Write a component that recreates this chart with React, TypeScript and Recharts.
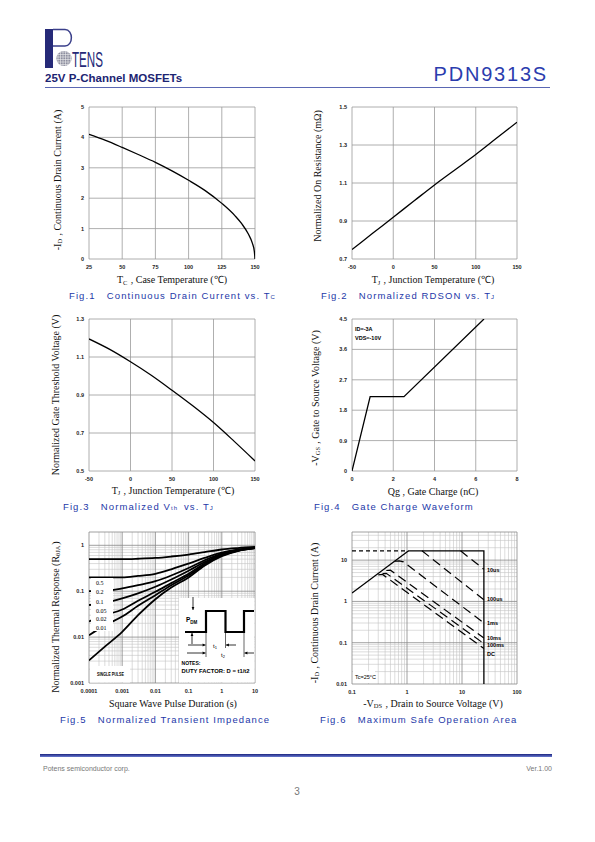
import React from "react";
import { LineChart, Line, XAxis, YAxis, CartesianGrid } from "recharts";

// Fig.1 continuous drain current vs case temperature
const fig1Temp = [25, 37.5, 50, 62.5, 75, 87.5, 100, 112.5, 125, 135, 140, 145, 148, 149.5, 150];
const fig1Current = [4.1, 3.9, 3.67, 3.43, 3.18, 2.9, 2.59, 2.25, 1.83, 1.42, 1.16, 0.82, 0.52, 0.25, 0];
const fig1XTicks = [25, 50, 75, 100, 125, 150];
const fig1YTicks = [0, 1, 2, 3, 4, 5];

// Fig.2 normalized RDSON vs junction temperature
const fig2Temp = [-50, -25, 0, 25, 50, 75, 100, 125, 150];
const fig2Rdson = [0.75, 0.835, 0.92, 1.005, 1.09, 1.17, 1.25, 1.335, 1.42];
const tjTicks = [-50, 0, 50, 100, 150];
const fig2YTicks = [0.7, 0.9, 1.1, 1.3, 1.5];

// Fig.3 normalized Vth vs junction temperature
const fig3Temp = [-50, -25, 0, 25, 50, 75, 100, 125, 150];
const fig3Vth = [1.195, 1.14, 1.075, 1.004, 0.925, 0.843, 0.755, 0.656, 0.553];
const fig3YTicks = [0.5, 0.7, 0.9, 1.1, 1.3];

// Fig.4 gate charge
const fig4Qg = [0, 0.88, 2.52, 6.4];
const fig4Vgs = [0, 2.2, 2.2, 4.5];
const fig4XTicks = [0, 2, 4, 6, 8];
const fig4YTicks = [0, 0.9, 1.8, 2.7, 3.6, 4.5];

// Fig.5 transient thermal impedance
const fig5Time = [0.0001, 0.0003, 0.001, 0.003, 0.01, 0.03, 0.1, 0.3, 1, 3, 10];
const fig5D050 = [0.5, 0.5, 0.5, 0.51, 0.53, 0.57, 0.63, 0.71, 0.81, 0.87, 0.92];
const fig5D020 = [0.2, 0.2, 0.2, 0.215, 0.24, 0.3, 0.4, 0.53, 0.69, 0.8, 0.89];
const fig5D010 = [0.1, 0.102, 0.115, 0.135, 0.165, 0.22, 0.32, 0.47, 0.66, 0.79, 0.89];
const fig5D005 = [0.05, 0.056, 0.07, 0.09, 0.125, 0.18, 0.28, 0.43, 0.63, 0.78, 0.88];
const fig5D002 = [0.022, 0.03, 0.04, 0.062, 0.097, 0.15, 0.24, 0.4, 0.61, 0.77, 0.875];
const fig5D001 = [0.011, 0.018, 0.028, 0.048, 0.082, 0.135, 0.22, 0.38, 0.6, 0.76, 0.87];
const fig5Single = [0.0031, 0.0062, 0.013, 0.03, 0.067, 0.12, 0.2, 0.36, 0.58, 0.75, 0.865];
const fig5XTicks = [0.0001, 0.001, 0.01, 0.1, 1, 10];
const fig5YTicks = [0.001, 0.01, 0.1, 1];
const fig5Legend = ["0.5", "0.2", "0.1", "0.05", "0.02", "0.01"];

// Fig.6 safe operating area
const soaRdsV = [0.1, 1.07];
const soaRdsI = [1.6, 16.8];
const soaTopV = [0.1, 1.07];
const soaTopI = [16.8, 16.8];
const soaLimV = [1.07, 25, 25];
const soaLimI = [16.8, 16.8, 0.01];
const soa10usV = [9.4, 25];
const soa10usI = [16.8, 6];
const soa100usV = [1.87, 25];
const soa100usI = [16.8, 1.1];
const soa1msV = [0.6, 0.72, 0.86, 25];
const soa1msI = [9.4, 9.6, 9.1, 0.3];
const soa10msV = [0.42, 0.5, 25];
const soa10msI = [5.6, 5.7, 0.13];
const soa100msV = [0.36, 0.42, 25];
const soa100msI = [4.7, 4.8, 0.095];
const soaDcV = [0.3, 0.36, 25];
const soaDcI = [4.4, 4.5, 0.072];
const fig6XTicks = [0.1, 1, 10, 100];
const fig6YTicks = [0.01, 0.1, 1, 10];
const fig6Labels = ["10us", "100us", "1ms", "10ms", "100ms", "DC"];

const zip = (xs: number[], ys: number[]) => xs.map((x, i) => ({ x, y: ys[i] }));

const minors = (from: number, to: number, top?: number) => {
  const out: number[] = [];
  for (let d = from; d < to; d *= 10) {
    for (let m = 2; m <= 9; m++) {
      const v = +(m * d).toPrecision(3);
      if (top === undefined || v < top) out.push(v);
    }
  }
  return out;
};

const sans = "'Liberation Sans', Arial, sans-serif";
const serif = "'Liberation Serif', 'Times New Roman', serif";
const capColor = "#2438a8";
const gridColor = "#9a9a9a";
const tickStyle = { fontSize: 5.5, fontFamily: sans, fontWeight: 700, fill: "#222" };

const PAD_L = 40;
const PAD_T = 10;
const PAD_R = 10;
const PAD_B = 20;

type Box = { x0: number; y0: number; x1: number; y1: number };

function Frame({ box, children }: { box: Box; children: React.ReactNode }) {
  const width = box.x1 - box.x0 + PAD_L + PAD_R;
  const height = box.y1 - box.y0 + PAD_T + PAD_B;
  return (
    <div style={{ position: "absolute", left: box.x0 - PAD_L, top: box.y0 - PAD_T }}>
      <LineChart width={width} height={height} margin={{ top: PAD_T, right: PAD_R, bottom: 0, left: 0 }}>
        {children}
      </LineChart>
    </div>
  );
}

const xAxisProps = {
  type: "number" as const,
  dataKey: "x",
  tickLine: false,
  axisLine: false,
  height: PAD_B,
  tickSize: 5,
  tickMargin: 1,
  interval: 0 as const,
  allowDataOverflow: true,
  tick: tickStyle,
};
const yAxisProps = {
  type: "number" as const,
  tickLine: false,
  axisLine: false,
  width: PAD_L,
  tickSize: 4,
  tickMargin: 1,
  interval: 0 as const,
  allowDataOverflow: true,
  tick: tickStyle,
};

function LinearChart({ box, xs, ys, xTicks, yTicks, curve }: any) {
  return (
    <Frame box={box}>
      <CartesianGrid stroke={gridColor} strokeWidth={0.8} />
      <XAxis {...xAxisProps} domain={[xTicks[0], xTicks[xTicks.length - 1]]} ticks={xTicks} />
      <YAxis {...yAxisProps} domain={[yTicks[0], yTicks[yTicks.length - 1]]} ticks={yTicks} />
      <Line data={zip(xs, ys)} dataKey="y" type={curve} stroke="#000" strokeWidth={1.3} dot={false} isAnimationActive={false} />
    </Frame>
  );
}

const fig5Curves = [fig5D050, fig5D020, fig5D010, fig5D005, fig5D002, fig5D001, fig5Single];
const fig5Top = 1.95;
const fig6Top = 48;

const soaSolid = [zip(soaRdsV, soaRdsI), zip(soaLimV, soaLimI)];
const soaDashed = [zip(soa10usV, soa10usI), zip(soa100usV, soa100usI), zip(soa1msV, soa1msI), zip(soa10msV, soa10msI), zip(soa100msV, soa100msI), zip(soaDcV, soaDcI)];

const B1 = { x0: 89, y0: 107, x1: 255, y1: 259 };
const B2 = { x0: 352, y0: 107, x1: 517, y1: 259 };
const B3 = { x0: 89, y0: 319, x1: 255, y1: 471 };
const B4 = { x0: 352, y0: 319, x1: 517, y1: 471 };
const B5 = { x0: 89, y0: 532, x1: 255, y1: 683 };
const B6 = { x0: 352, y0: 532, x1: 517, y1: 684 };

function YLabel({ cx, cy, children }: any) {
  return (
    <text x={cx} y={cy} transform={`rotate(-90 ${cx} ${cy})`} textAnchor="middle" dominantBaseline="central" fontFamily={serif} fontSize={10} fill="#111">
      {children}
    </text>
  );
}
function XLabel({ cx, cy, children }: any) {
  return (
    <text x={cx} y={cy} textAnchor="middle" dominantBaseline="central" fontFamily={serif} fontSize={10} fill="#111">
      {children}
    </text>
  );
}
function Caption({ x, cy, children }: any) {
  return (
    <text x={x} y={cy} dominantBaseline="central" fontFamily={sans} fontSize={9.5} letterSpacing={1.1} fill={capColor} style={{ whiteSpace: "pre" }}>
      {children}
    </text>
  );
}
const Sub = ({ t, size = 6.5 }: { t: string; size?: number }) => (
  <>
    <tspan fontSize={size} dy={2}>{t}</tspan>
    <tspan dy={-2}>{"\u200a"}</tspan>
  </>
);

function Arrow({ x1, y1, x2, y2 }: any) {
  const a = Math.atan2(y2 - y1, x2 - x1);
  const s = 3.2;
  const p1 = [x2 - s * Math.cos(a - 0.45), y2 - s * Math.sin(a - 0.45)];
  const p2 = [x2 - s * Math.cos(a + 0.45), y2 - s * Math.sin(a + 0.45)];
  return (
    <g>
      <line x1={x1} y1={y1} x2={x2} y2={y2} stroke="#000" strokeWidth={0.8} />
      <path d={`M${x2},${y2} L${p1[0]},${p1[1]} L${p2[0]},${p2[1]} Z`} fill="#000" />
    </g>
  );
}

export default function App() {
  return (
    <div style={{ position: "absolute", left: 0, top: 0, width: 595, height: 842, background: "#fff", overflow: "hidden" }}>
      <LinearChart box={B1} xs={fig1Temp} ys={fig1Current} xTicks={fig1XTicks} yTicks={fig1YTicks} curve="monotone" />
      <LinearChart box={B2} xs={fig2Temp} ys={fig2Rdson} xTicks={tjTicks} yTicks={fig2YTicks} curve="monotone" />
      <LinearChart box={B3} xs={fig3Temp} ys={fig3Vth} xTicks={tjTicks} yTicks={fig3YTicks} curve="monotone" />
      <LinearChart box={B4} xs={fig4Qg} ys={fig4Vgs} xTicks={fig4XTicks} yTicks={fig4YTicks} curve="linear" />

      <Frame box={B5}>
        <CartesianGrid stroke="#c4c4c4" strokeWidth={0.6} verticalValues={minors(0.0001, 10)} horizontalValues={minors(0.001, 1)} />
        <CartesianGrid stroke="#888" strokeWidth={0.8} verticalValues={fig5XTicks} horizontalValues={[...fig5YTicks, fig5Top]} />
        <XAxis {...xAxisProps} scale="log" domain={[0.0001, 10]} ticks={fig5XTicks} tickFormatter={(v: number) => String(v)} />
        <YAxis {...yAxisProps} scale="log" domain={[0.001, fig5Top]} ticks={fig5YTicks} tickFormatter={(v: number) => String(v)} />
        {fig5Curves.map((c, i) => (
          <Line key={i} data={zip(fig5Time, c)} dataKey="y" type="monotone" stroke="#000" strokeWidth={1.8} dot={false} isAnimationActive={false} />
        ))}
      </Frame>

      <Frame box={B6}>
        <CartesianGrid stroke="#c4c4c4" strokeWidth={0.6} verticalValues={minors(0.1, 100)} horizontalValues={minors(0.01, 100, fig6Top)} />
        <CartesianGrid stroke="#888" strokeWidth={0.8} verticalValues={fig6XTicks} horizontalValues={[...fig6YTicks, fig6Top]} />
        <XAxis {...xAxisProps} scale="log" domain={[0.1, 100]} ticks={fig6XTicks} tickFormatter={(v: number) => String(v)} />
        <YAxis {...yAxisProps} scale="log" domain={[0.01, fig6Top]} ticks={fig6YTicks} tickFormatter={(v: number) => String(v)} />
        <Line data={zip(soaTopV, soaTopI)} dataKey="y" type="linear" stroke="#000" strokeWidth={1.2} strokeDasharray="4 3" dot={false} isAnimationActive={false} />
        {soaSolid.map((d, i) => (
          <Line key={"s" + i} data={d} dataKey="y" type="linear" stroke="#000" strokeWidth={1.3} dot={false} isAnimationActive={false} />
        ))}
        {soaDashed.map((d, i) => (
          <Line key={"d" + i} data={d} dataKey="y" type="linear" stroke="#000" strokeWidth={1.2} strokeDasharray="9 5" dot={false} isAnimationActive={false} />
        ))}
      </Frame>

      <svg width={595} height={842} style={{ position: "absolute", left: 0, top: 0 }}>
        {/* header */}
        <defs>
          <clipPath id="globe">
            <circle cx={64} cy={58.5} r={7.6} />
          </clipPath>
          <linearGradient id="foot" x1="0" y1="0" x2="0" y2="1">
            <stop offset="0" stopColor="#1a237e" />
            <stop offset="1" stopColor="#6a7bd0" />
          </linearGradient>
        </defs>
        <rect x={45} y={29} width={8} height={39} fill="#262a78" />
        <path d="M53 29.5 H65 C73.5 29.5 73.5 46 65 46 H53" stroke="#3a3f8a" strokeWidth={1.5} fill="none" />
        <g clipPath="url(#globe)">
          <rect x={56} y={50} width={16} height={17} fill="#8e8fa0" />
          {[52, 54.5, 57, 59.5, 62, 64.5].map((y) => (
            <line key={"h" + y} x1={56} x2={72} y1={y} y2={y} stroke="#eee" strokeWidth={0.6} />
          ))}
          {[58, 60.5, 63, 65.5, 68, 70.5].map((x) => (
            <line key={"v" + x} x1={x} x2={x} y1={50} y2={67} stroke="#eee" strokeWidth={0.6} />
          ))}
        </g>
        <text x={72} y={66.5} fontFamily={sans} fontSize={22} textLength={31} lengthAdjust="spacingAndGlyphs" fill="#262a78">TENS</text>
        <text x={45} y={82} fontFamily={sans} fontSize={11.5} fontWeight={700} fill="#1c2472">25V P-Channel MOSFETs</text>
        <text x={548} y={81} textAnchor="end" fontFamily={sans} fontSize={20} letterSpacing={1.8} fill="#2b3cae">PDN9313S</text>
        <line x1={45} x2={550} y1={87.5} y2={87.5} stroke="#3040a0" strokeWidth={0.8} />

        {/* Fig.1 */}
        <YLabel cx={57} cy={180}>-I<Sub t="D" /> , Continuous Drain Current (A)</YLabel>
        <XLabel cx={172} cy={279.5}>T<Sub t="C" /> , Case Temperature (℃)</XLabel>
        <Caption x={69} cy={295}>{"Fig.1   Continuous Drain Current vs. T"}<Sub t="C" size={6} /></Caption>

        {/* Fig.2 */}
        <YLabel cx={317} cy={176}>Normalized On Resistance (mΩ)</YLabel>
        <XLabel cx={433} cy={279.5}>T<Sub t="J" /> , Junction Temperature (℃)</XLabel>
        <Caption x={321} cy={295}>{"Fig.2   Normalized RDSON vs. T"}<Sub t="J" size={6} /></Caption>

        {/* Fig.3 */}
        <YLabel cx={55} cy={395}>Normalized Gate Threshold Voltage (V)</YLabel>
        <XLabel cx={173} cy={490}>T<Sub t="J" /> , Junction Temperature (℃)</XLabel>
        <Caption x={63} cy={506}>{"Fig.3   Normalized V"}<Sub t="th" size={6} />{" vs. T"}<Sub t="J" size={6} /></Caption>

        {/* Fig.4 */}
        <YLabel cx={315} cy={398}>-V<Sub t="GS" /> , Gate to Source Voltage (V)</YLabel>
        <XLabel cx={433} cy={491}>Qg , Gate Charge (nC)</XLabel>
        <Caption x={314} cy={506}>{"Fig.4   Gate Charge Waveform"}</Caption>
        <text x={355} y={331} fontFamily={sans} fontSize={5.5} fontWeight={700}>ID=-3A</text>
        <text x={355} y={340} fontFamily={sans} fontSize={5.5} fontWeight={700}>VDS=-10V</text>

        {/* Fig.5 */}
        <YLabel cx={55} cy={617}>Normalized Thermal Response (R<Sub t="θJA" />)</YLabel>
        <XLabel cx={173} cy={703}>Square Wave Pulse Duration (s)</XLabel>
        <Caption x={60} cy={719}>{"Fig.5   Normalized Transient Impedance"}</Caption>
        <rect x={91} y={578} width={22} height={53} fill="#fff" />
        {fig5Legend.map((t, i) => (
          <text key={t} x={96} y={[583.3, 592.3, 601.7, 611, 619.3, 628.3][i]} dominantBaseline="central" fontFamily={serif} fontSize={6}>{t}</text>
        ))}
        <rect x={90} y={666} width={40} height={16.5} fill="#fff" />
        <text x={97} y={673.5} dominantBaseline="central" fontFamily={sans} fontSize={5.5} fontWeight={700} textLength={27} lengthAdjust="spacingAndGlyphs">SINGLE PULSE</text>
        <rect x={179} y={598} width={75.5} height={84.5} fill="#fff" />
        <path d="M185 632 H206 V611 H225.5 V632 H244 V611 H254" stroke="#000" strokeWidth={2.2} fill="none" />
        <Arrow x1={193} y1={597} x2={193} y2={610} />
        <Arrow x1={192} y1={644} x2={192} y2={633} />
        <text x={186} y={622} fontFamily={sans} fontSize={6.5} fontWeight={700}>P<tspan fontSize={4.5} dy={1.5}>DM</tspan></text>
        <line x1={206} x2={206} y1={632} y2={657} stroke="#000" strokeWidth={0.6} />
        <line x1={225.5} x2={225.5} y1={632} y2={648} stroke="#000" strokeWidth={0.6} />
        <line x1={244} x2={244} y1={632} y2={657} stroke="#000" strokeWidth={0.6} />
        <Arrow x1={188} y1={645} x2={205.5} y2={645} />
        <Arrow x1={236} y1={645} x2={226} y2={645} />
        <Arrow x1={187} y1={653} x2={205.5} y2={653} />
        <Arrow x1={254} y1={653} x2={244.5} y2={653} />
        <text x={213} y={647.5} fontFamily={sans} fontSize={6}>t<tspan fontSize={4} dy={1}>1</tspan></text>
        <text x={221} y={657} fontFamily={sans} fontSize={6}>t<tspan fontSize={4} dy={1}>2</tspan></text>
        <text x={181.5} y={665} fontFamily={sans} fontSize={5.5} fontWeight={700} textLength={19} lengthAdjust="spacingAndGlyphs">NOTES:</text>
        <text x={181.5} y={673} fontFamily={sans} fontSize={5.5} fontWeight={700} textLength={68} lengthAdjust="spacingAndGlyphs">DUTY FACTOR: D = t1/t2</text>

        {/* Fig.6 */}
        <YLabel cx={314} cy={613}>-I<Sub t="D" /> , Continuous Drain Current (A)</YLabel>
        <XLabel cx={433} cy={703}>-V<Sub t="DS" /> , Drain to Source Voltage (V)</XLabel>
        <Caption x={320} cy={719}>{"Fig.6   Maximum Safe Operation Area"}</Caption>
        {fig6Labels.map((t, i) => (
          <text key={t} x={487} y={[570, 599.3, 622.7, 637.7, 645, 654][i]} dominantBaseline="central" fontFamily={sans} fontSize={5.5} fontWeight={700}>{t}</text>
        ))}
        <rect x={353} y={671} width={22} height={12} fill="#fff" />
        <text x={355} y={677} dominantBaseline="central" fontFamily={sans} fontSize={5.5}>Tc=25°C</text>

        {/* footer */}
        <rect x={40} y={754} width={512} height={3} fill="url(#foot)" />
        <text x={43} y={771} fontFamily={sans} fontSize={7} fill="#777">Potens semiconductor corp.</text>
        <text x={552} y={771} textAnchor="end" fontFamily={sans} fontSize={7} fill="#777">Ver.1.00</text>
        <text x={297} y={795} textAnchor="middle" fontFamily={sans} fontSize={10} fill="#777">3</text>
      </svg>
    </div>
  );
}
